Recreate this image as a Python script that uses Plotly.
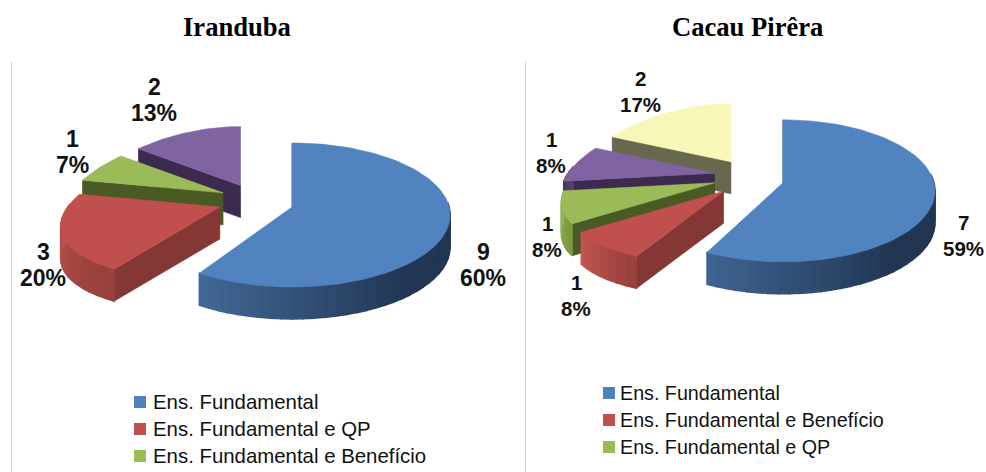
import math
import plotly.graph_objects as go

# ---------- data ----------
iranduba_values = [9, 3, 1, 2]
iranduba_pct = ["60%", "20%", "7%", "13%"]
iranduba_legend = ["Ens. Fundamental", "Ens. Fundamental e QP", "Ens. Fundamental e Benefício"]

cacau_values = [7, 1, 1, 1, 2]
cacau_pct = ["59%", "8%", "8%", "8%", "17%"]
cacau_legend = ["Ens. Fundamental", "Ens. Fundamental e Benefício", "Ens. Fundamental e QP"]

titles = ["Iranduba", "Cacau Pirêra"]

# ---------- styles ----------
W, H = 986, 472
TOP = ["#5083BF", "#C0504D", "#9BBB59", "#8064A2", "#F7F7B8"]
CUT = ["#3A5F8C", "#843735", "#4A5A25", "#3C2B4E", "#68684E"]
WALL_A = [(34, 54, 84), (150, 64, 60), (120, 150, 62), (70, 50, 90), (120, 120, 90)]
WALL_B = [(66, 104, 150), (196, 86, 82), (150, 182, 86), (110, 85, 140), (160, 160, 120)]
LEGEND_COL = ["#4F81BD", "#C0504D", "#9BBB59"]


def lerp(a, b, f):
    f = max(0.0, min(1.0, f))
    return "rgb(%d,%d,%d)" % tuple(a[i] + (b[i] - a[i]) * f for i in range(3))


fig = go.Figure()


def poly(xs, ys, color, lw=0.6):
    fig.add_trace(go.Scatter(
        x=xs + xs[:1], y=ys + ys[:1], mode="lines", fill="toself", fillcolor=color,
        line=dict(color=color, width=lw), hoverinfo="skip", showlegend=False))


def pie3d(values, geo):
    cx, cy, d, kd, rx0, ry0, off, depth = geo
    total = sum(values)
    spans, acc = [], 0.0
    for v in values:
        spans.append((acc / total * 2 * math.pi, (acc + v) / total * 2 * math.pi))
        acc += v
    for i in range(len(values) - 1, -1, -1):
        a0, a1 = spans[i]
        mid = (a0 + a1) / 2
        ax, ay = cx + d * math.sin(mid), cy - kd * math.cos(mid)
        p = 0.0 if i == 0 else 0.0028
        rx = rx0 if i == 0 else rx0 * 0.97
        ry = ry0 if i == 0 else ry0 * 0.93

        def rim(t):
            dx, dy = rx * math.sin(t), -ry * math.cos(t) + off
            return ax + dx * (1 + p * dy), ay + dy

        # cut face at the starting edge
        x0, y0 = rim(a0)
        poly([ax, x0, x0, ax], [ay, y0, y0 + depth, ay + depth], CUT[i])
        # outer wall in shaded strips
        n = max(2, int((a1 - a0) / math.radians(4)))
        for j in range(n):
            t0 = a0 + (a1 - a0) * j / n
            t1 = a0 + (a1 - a0) * (j + 1) / n
            if math.cos((t0 + t1) / 2) > 0.2:
                continue
            xa, ya = rim(t0)
            xb, yb = rim(t1)
            deg = math.degrees((t0 + t1) / 2)
            f = (deg - 135) / 80 if i == 0 else (deg - math.degrees(a0)) / max(1, math.degrees(a1 - a0))
            poly([xa, xb, xb, xa], [ya, yb, yb + depth, ya + depth], lerp(WALL_A[i], WALL_B[i], f), lw=1.4)
        # top face
        m = max(4, int((a1 - a0) / math.radians(2)))
        pts = [rim(a0 + (a1 - a0) * j / m) for j in range(m + 1)]
        poly([ax] + [q[0] for q in pts], [ay] + [q[1] for q in pts], TOP[i])


pie3d(iranduba_values, (256, 201.6, 38, 17.5, 158, 72, 8, 32))
pie3d(cacau_values, (748.7, 178, 35.5, 18.7, 152, 71, 8, 32))

# ---------- text ----------
ann = []


def label(x, y, v, pct, size):
    font = dict(family="Liberation Sans", size=size, color="#111111")
    for txt, yy in ((v, y - 13), (pct, y + 13)):
        ann.append(dict(x=x, y=yy, xref="x", yref="y", text=f"<b>{txt}</b>", showarrow=False,
                        font=font, align="center", xanchor="center", yanchor="middle"))


for (x, y), v, pc in zip([(483, 265), (43, 265), (72, 151.5), (154, 100)], iranduba_values, iranduba_pct):
    label(x, y, v, pc, 23)
for (x, y), v, pc in zip([(963, 235), (576, 295), (547, 236), (551, 152), (640, 91)], cacau_values, cacau_pct):
    label(x, y, v, pc, 20.5)
for x, t in zip([237, 747], titles):
    ann.append(dict(x=x, y=27, xref="x", yref="y", text=f"<b>{t}</b>", showarrow=False,
                    font=dict(family="Liberation Serif", size=26.6, color="black")))

# ---------- legends ----------
for names, x_sq, x_txt, y0, step, fs in ((iranduba_legend, 140, 151, 402, 27, 20.4),
                                         (cacau_legend, 609, 618, 393, 27, 19.7)):
    for k, (name, col) in enumerate(zip(names, LEGEND_COL)):
        y = y0 + k * step
        fig.add_trace(go.Scatter(x=[x_sq], y=[y], mode="markers", name=name, showlegend=False,
                                 hoverinfo="skip", marker=dict(symbol="square", size=12, color=col)))
        ann.append(dict(x=x_txt, y=y, xref="x", yref="y", text=name, showarrow=False,
                        font=dict(family="Liberation Sans", size=fs, color="#111111"),
                        xanchor="left", yanchor="middle"))

shapes = [dict(type="line", xref="x", yref="y", x0=x, x1=x, y0=y0, y1=H,
               line=dict(color="#D0D0D0", width=1)) for x, y0 in ((11.5, 62), (525.5, 61))]

fig.update_layout(
    width=W, height=H, margin=dict(l=0, r=0, t=0, b=0, autoexpand=False),
    paper_bgcolor="white", plot_bgcolor="white", showlegend=False,
    xaxis=dict(range=[0, W], visible=False, fixedrange=True),
    yaxis=dict(range=[H, 0], visible=False, fixedrange=True),
    annotations=ann, shapes=shapes, hovermode=False,
)

fig.write_html("out.html", post_script="document.body.style.margin='0';document.body.style.overflow='hidden';",
               config=dict(displayModeBar=False))
